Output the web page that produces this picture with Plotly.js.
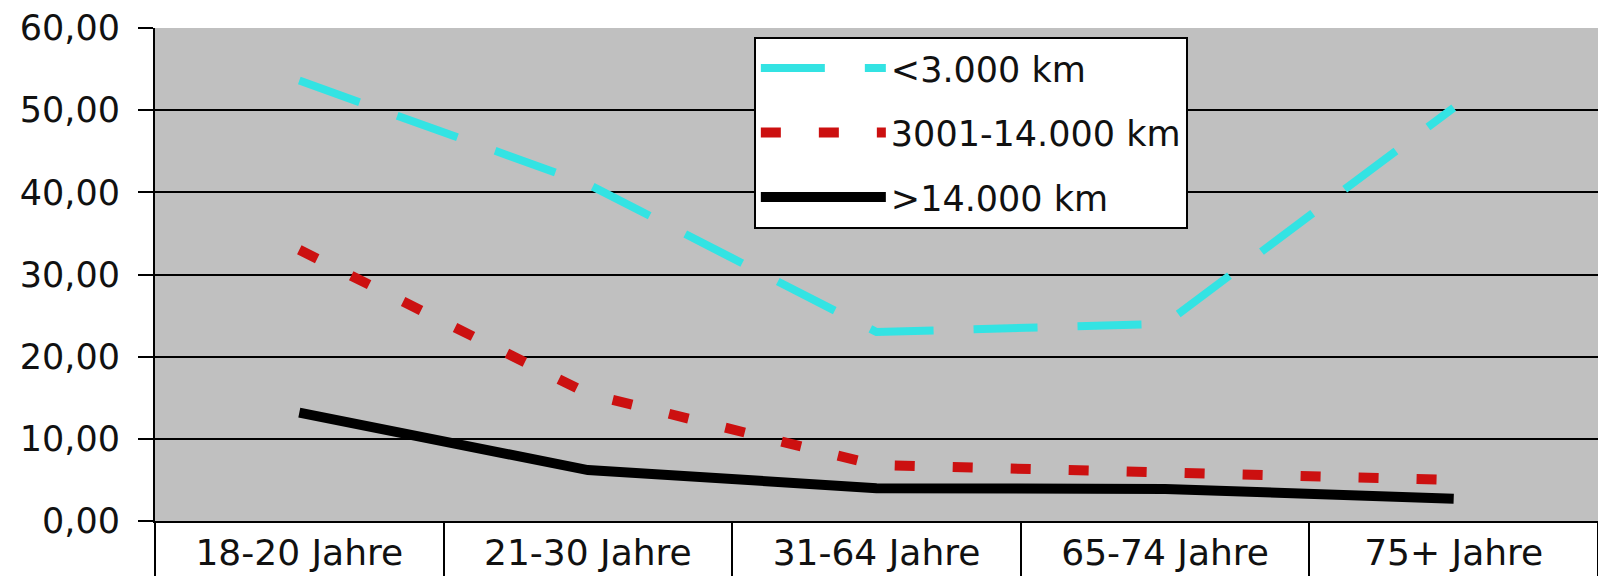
<!DOCTYPE html>
<html>
<head>
<meta charset="utf-8">
<script src="https://cdn.plot.ly/plotly-3.0.1.min.js"></script>
<style>
  html, body { margin: 0; padding: 0; background: #ffffff; }
  #chart { width: 1598px; height: 576px; }
</style>
</head>
<body>
<div id="chart"></div>
<script>
const categories = ["18-20 Jahre", "21-30 Jahre", "31-64 Jahre", "65-74 Jahre", "75+ Jahre"];
const seriesNames = ["<3.000 km", "3001-14.000 km", ">14.000 km"];
const shortDistance = [53.6, 41.0, 23.0, 24.0, 50.3];
const mediumDistance = [33.0, 15.5, 6.8, 5.9, 5.0];
const longDistance = [13.2, 6.2, 4.0, 3.9, 2.7];
const yTicks = [0, 10, 20, 30, 40, 50, 60];

const font = "DejaVu Sans, Liberation Sans, Arial, sans-serif";

const traces = [
  {
    x: categories, y: shortDistance, name: seriesNames[0], type: "scatter", mode: "lines",
    legendgroup: "a",
    line: { color: "#33e3e3", width: 8, dash: "64px,40px" }
  },
  {
    x: categories, y: mediumDistance, name: seriesNames[1], type: "scatter", mode: "lines",
    legendgroup: "b",
    line: { color: "#cc1010", width: 10, dash: "20px,38px" }
  },
  {
    x: categories, y: longDistance, name: seriesNames[2], type: "scatter", mode: "lines",
    legendgroup: "c",
    line: { color: "#000000", width: 10 }
  }
];

const layout = {
  width: 1598, height: 576,
  margin: { l: 155, r: 0, t: 28, b: 55, pad: 0 },
  paper_bgcolor: "#ffffff",
  plot_bgcolor: "#c0c0c0",
  separators: ",.",
  showlegend: true,
  legend: {
    x: 0.415, y: 0.982, xanchor: "left", yanchor: "top",
    bgcolor: "#ffffff", bordercolor: "#000000", borderwidth: 2,
    font: { family: font, size: 35, color: "#111111" },
    itemwidth: 125, traceorder: "grouped", tracegroupgap: 16
  },
  xaxis: {
    type: "category", categoryorder: "array", categoryarray: categories,
    range: [-0.5, 4.5], fixedrange: true,
    showgrid: false, zeroline: false,
    showline: true, linecolor: "#000000", linewidth: 2,
    ticks: "outside", tickson: "boundaries", ticklen: 60, tickwidth: 2, tickcolor: "#000000",
    ticklabelstandoff: -1,
    tickfont: { family: font, size: 36, color: "#111111" }
  },
  yaxis: {
    range: [0, 60], fixedrange: true,
    tickmode: "array", tickvals: yTicks, tickformat: ".2f",
    showgrid: true, gridcolor: "#000000", gridwidth: 2,
    zeroline: false,
    showline: true, linecolor: "#000000", linewidth: 2,
    ticks: "outside", ticklen: 15, tickwidth: 2, tickcolor: "#000000",
    ticklabelstandoff: 11,
    tickfont: { family: font, size: 35, color: "#111111" }
  }
};

Plotly.newPlot("chart", traces, layout, { staticPlot: true, displayModeBar: false });
</script>
</body>
</html>
